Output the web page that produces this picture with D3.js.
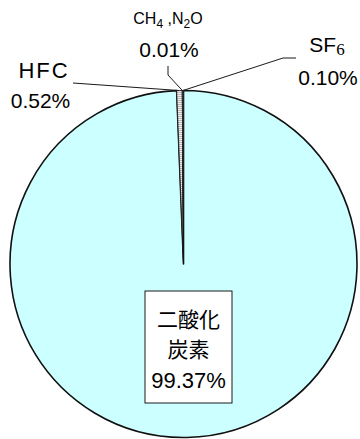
<!DOCTYPE html>
<html>
<head>
<meta charset="utf-8">
<script src="https://cdn.jsdelivr.net/npm/d3@7"></script>
<style>
  html, body { margin: 0; padding: 0; background: #fff; }
  svg { display: block; font-family: "Liberation Sans", Arial, sans-serif; }
</style>
</head>
<body>
<svg id="chart" width="360" height="439"></svg>
<script>
// données du graphique (ordre horaire depuis midi)
const categories = ['二酸化炭素', 'HFC', 'CH4,N2O', 'SF6'];
const values = [99.37, 0.52, 0.01, 0.10];
const valueLabels = ['99.37%', '0.52%', '0.01%', '0.10%'];

const width = 360, height = 439;
const cx = 183.5, cy = 264, r = 173.5;

const svg = d3.select('#chart');

// motif pointillé pour les petites parts
const defs = svg.append('defs');
const pat = defs.append('pattern')
  .attr('id', 'dots')
  .attr('width', 2).attr('height', 2)
  .attr('patternUnits', 'userSpaceOnUse');
pat.append('rect').attr('width', 2).attr('height', 2).attr('fill', '#f2f2f2');
pat.append('rect').attr('width', 1).attr('height', 1).attr('fill', '#7a7a7a');

const fills = ['#ccffff', 'url(#dots)', 'url(#dots)', 'url(#dots)'];

const pie = d3.pie().sort(null).value(d => d);
const arcs = pie(values);
const arc = d3.arc().innerRadius(0).outerRadius(r);

const g = svg.append('g').attr('transform', `translate(${cx},${cy})`);

g.selectAll('path')
  .data(arcs)
  .enter()
  .append('path')
  .attr('d', arc)
  .attr('fill', (d, i) => fills[i])
  .attr('stroke', '#111')
  .attr('stroke-width', (d, i) => i === 0 ? 1.6 : 0.8)
  .attr('stroke-linejoin', 'round');

// point sur le bord d'une part
function edgePoint(d) {
  const a = (d.startAngle + d.endAngle) / 2;
  return [cx + r * Math.sin(a), cy - r * Math.cos(a)];
}

// lignes de rappel
const leaders = [
  { i: 1, pts: [[73, 83]] },
  { i: 2, pts: [[168, 66], [168, 75]] },
  { i: 3, pts: [[296, 58], [283, 58]] }
];
const line = d3.line();
leaders.forEach(l => {
  svg.append('path')
    .attr('d', line(l.pts.concat([edgePoint(arcs[l.i])])))
    .attr('fill', 'none')
    .attr('stroke', '#1a1a1a')
    .attr('stroke-width', 1);
});

// étiquettes
// HFC
svg.append('text').attr('x', 44).attr('y', 78).attr('text-anchor', 'middle')
  .style('font-size', '22px').style('letter-spacing', '2px').text(categories[1]);
svg.append('text').attr('x', 40.5).attr('y', 108).attr('text-anchor', 'middle')
  .style('font-size', '21px').text(valueLabels[1]);

// CH4, N2O
const t2 = svg.append('text').attr('x', 168).attr('y', 24).attr('text-anchor', 'middle')
  .style('font-size', '16px');
t2.append('tspan').text('CH');
t2.append('tspan').attr('dy', 4).style('font-size', '12px').text('4');
t2.append('tspan').attr('dy', -4).text(' ,N');
t2.append('tspan').attr('dy', 4).style('font-size', '12px').text('2');
t2.append('tspan').attr('dy', -4).text('O');
svg.append('text').attr('x', 169).attr('y', 57).attr('text-anchor', 'middle')
  .style('font-size', '21px').text(valueLabels[2]);

// SF6
const t3 = svg.append('text').attr('x', 327).attr('y', 52).attr('text-anchor', 'middle')
  .style('font-size', '21px');
t3.append('tspan').text('SF');
t3.append('tspan').attr('dy', 3).style('font-family', '"Liberation Serif", serif')
  .style('font-size', '17px').text('6');
svg.append('text').attr('x', 328).attr('y', 85).attr('text-anchor', 'middle')
  .style('font-size', '21px').text(valueLabels[3]);

// boîte du CO2
const bx = 145, by = 291, bw = 87, bh = 112;
svg.append('rect').attr('x', bx).attr('y', by).attr('width', bw).attr('height', bh)
  .attr('fill', '#fff').attr('stroke', '#1a1a1a').attr('stroke-width', 1);
const jp = '"Noto Sans CJK JP", "Noto Sans CJK SC", sans-serif';
svg.append('text').attr('x', bx + bw / 2).attr('y', 327).attr('text-anchor', 'middle')
  .style('font-family', jp).style('font-size', '21px').text(categories[0].slice(0, 3));
svg.append('text').attr('x', bx + bw / 2).attr('y', 357).attr('text-anchor', 'middle')
  .style('font-family', jp).style('font-size', '21px').text(categories[0].slice(3));
svg.append('text').attr('x', bx + bw / 2).attr('y', 388).attr('text-anchor', 'middle')
  .style('font-size', '22px').text(valueLabels[0]);
</script>
</body>
</html>
